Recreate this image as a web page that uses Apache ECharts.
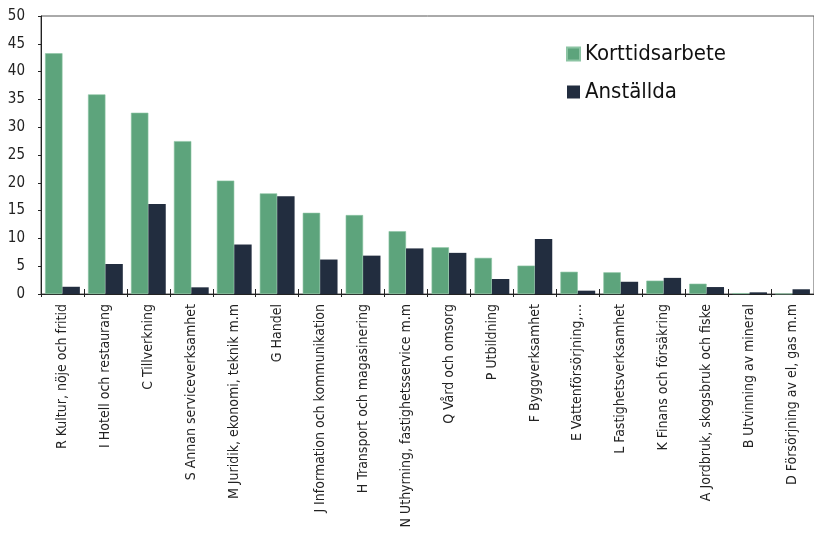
<!DOCTYPE html>
<html>
<head>
<meta charset="utf-8">
<script src="https://cdn.jsdelivr.net/npm/echarts@6/dist/echarts.min.js"></script>
<style>
html,body{margin:0;padding:0;background:#fff;}
#chart{width:814px;height:537px;}
</style>
</head>
<body>
<div id="chart"></div>
<script>
const categories = [
  "R Kultur, nöje och fritid",
  "I Hotell och restaurang",
  "C Tillverkning",
  "S Annan serviceverksamhet",
  "M Juridik, ekonomi, teknik m.m",
  "G Handel",
  "J Information och kommunikation",
  "H Transport och magasinering",
  "N Uthyrning, fastighetsservice m.m",
  "Q Vård och omsorg",
  "P Utbildning",
  "F Byggverksamhet",
  "E Vattenförsörjning,…",
  "L Fastighetsverksamhet",
  "K Finans och försäkring",
  "A Jordbruk, skogsbruk och fiske",
  "B Utvinning av mineral",
  "D Försörjning av el, gas m.m"
];
const korttidsarbete = [43.3, 35.9, 32.6, 27.5, 20.4, 18.1, 14.6, 14.2, 11.3, 8.4, 6.5, 5.1, 4.0, 3.9, 2.4, 1.85, 0.15, 0.05];
const anstallda = [1.3, 5.4, 16.2, 1.2, 8.9, 17.6, 6.2, 6.9, 8.2, 7.4, 2.7, 9.9, 0.6, 2.2, 2.9, 1.25, 0.3, 0.85];
const yTicks = [0, 5, 10, 15, 20, 25, 30, 35, 40, 45, 50];

const FONT = "'Liberation Sans Narrow', 'DejaVu Sans Condensed', 'Roboto', sans-serif";
const chart = echarts.init(document.getElementById('chart'), null, {renderer: 'canvas'});
chart.setOption({
  animation: false,
  backgroundColor: '#ffffff',
  textStyle: {fontFamily: FONT},
  grid: {left: 41, top: 16, right: -7, bottom: 243, show: true, borderColor: '#555', borderWidth: 1, containLabel: false},
  legend: {
    orient: 'vertical', left: 566, top: 43, padding: 0,
    itemWidth: 13, itemHeight: 13, itemGap: 16,
    icon: 'rect',
    textStyle: {fontFamily: FONT, fontSize: 22, color: '#111'},
    data: ['Korttidsarbete', 'Anställda']
  },
  xAxis: [{
    type: 'category', data: categories, position: 'bottom',
    axisLine: {show: true, lineStyle: {color: '#222', width: 1}},
    axisTick: {show: true, interval: 0, alignWithLabel: false, length: 3, lineStyle: {color: '#222'}},
    axisLabel: {rotate: 90, interval: 0, fontSize: 14, color: '#222', margin: 10, fontFamily: FONT},
    splitLine: {show: false}
  }, {
    type: 'category', data: categories, position: 'bottom',
    axisLine: {show: false},
    axisTick: {show: true, interval: 0, inside: true, length: 5, lineStyle: {color: '#222'}},
    axisLabel: {show: false, interval: 0},
    splitLine: {show: false}
  }],
  yAxis: {
    type: 'value', min: 0, max: 50, interval: 5,
    axisLine: {show: true, lineStyle: {color: '#222', width: 1}},
    axisTick: {show: true, length: 3, lineStyle: {color: '#222'}},
    axisLabel: {fontSize: 15, color: '#222', margin: 16, fontFamily: FONT,
      formatter: v => yTicks.includes(v) ? String(v) : ''},
    splitLine: {show: false}
  },
  series: [{
    name: 'Korttidsarbete', type: 'bar', data: korttidsarbete,
    barGap: '0%', barCategoryGap: '19%',
    itemStyle: {color: '#5da47c', borderColor: '#8cc4a3', borderWidth: 0.6}
  }, {
    name: 'Anställda', type: 'bar', data: anstallda,
    barGap: '0%', barCategoryGap: '19%',
    itemStyle: {color: '#222d3f'}
  }]
});
</script>
</body>
</html>
